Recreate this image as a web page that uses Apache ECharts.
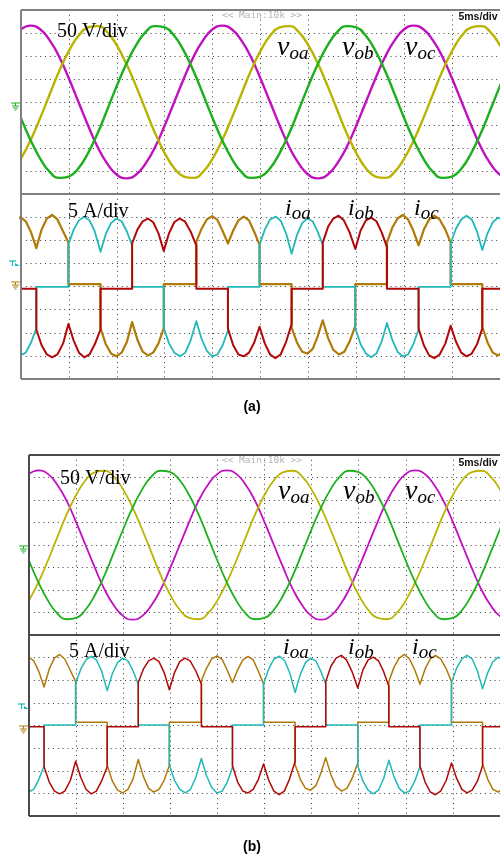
<!DOCTYPE html>
<html><head><meta charset="utf-8">
<script src="https://cdn.jsdelivr.net/npm/echarts@6/dist/echarts.min.js"></script>
<style>html,body{margin:0;padding:0;background:#fff}#c{width:500px;height:859px}</style>
</head><body><div id="c"></div>
<script>
// time samples of the voltage traces (ms)
const vTime = [0,1,2,3,4,5,6,7,8,9,10,11,12,13,14,15,16,17,18,19,20,21,22,23,24,25,26,27,28,29,30,31,32,33,34,35,36,37,38,39,40,41,42,43,44,45,46,47,48,49,50,51];
// voltages (V)
const vOa = [-123,-83,-35,17,68,111,144,162,165,152,123,83,35,-17,-68,-111,-144,-162,-165,-152,
             -123,-83,-35,17,68,111,144,162,165,152,123,83,35,-17,-68,-111,-144,-162,-165,-152,
             -123,-83,-35,17,68,111,144,162,165,152,123,83];
const vOb = [-35,-83,-123,-152,-165,-162,-144,-111,-68,-17,35,83,123,152,165,162,144,111,68,17,
             -35,-83,-123,-152,-165,-162,-144,-111,-68,-17,35,83,123,152,165,162,144,111,68,17,
             -35,-83,-123,-152,-165,-162,-144,-111,-68,-17,35,83];
const vOc = [158,166,158,134,98,51,0,-51,-98,-134,-158,-166,-158,-134,-98,-51,0,51,98,134,
             158,166,158,134,98,51,0,-51,-98,-134,-158,-166,-158,-134,-98,-51,0,51,98,134,
             158,166,158,134,98,51,0,-51,-98,-134,-158,-166];
// currents [ms, A]
const iOa = [[-1.7,-7.5],[-1.15,-11.2],[-0.6,-13.6],[-0.05,-14.4],[0.5,-13.8],[1.05,-11.6],[1.6,-8.6],[1.6,0.4],[4.95,0.4],[4.95,9.6],[5.5,12.8],[6.05,14.8],[6.6,15.6],[7.15,14.8],[7.7,12.4],[8.3,8.0],[8.85,11.8],[9.4,14.2],[9.95,15.2],[10.5,14.6],[11.05,12.4],[11.6,9.4],[11.6,0.4],[14.9,0.4],[14.9,-8.4],[15.45,-11.8],[16.0,-13.8],[16.6,-14.6],[17.15,-13.8],[17.7,-11.2],[18.3,-7.0],[18.85,-10.8],[19.4,-13.4],[19.95,-14.6],[20.5,-14.2],[21.05,-12.2],[21.6,-9.0],[21.6,0.4],[24.9,0.4],[24.9,9.5],[25.45,12.8],[26.0,15.0],[26.6,15.6],[27.15,14.6],[27.7,11.8],[28.25,7.6],[28.8,11.6],[29.35,14.2],[29.9,15.2],[30.45,14.6],[31.0,12.2],[31.5,9.5],[31.5,0.4],[34.9,0.4],[34.9,-8.6],[35.45,-12.0],[36.0,-14.0],[36.55,-14.8],[37.1,-14.0],[37.65,-11.4],[38.2,-7.4],[38.75,-11.0],[39.3,-13.6],[39.85,-14.6],[40.4,-14.2],[40.95,-12.0],[41.5,-8.8],[41.5,0.4],[44.85,0.4],[44.85,9.8],[45.4,13.0],[45.95,15.0],[46.5,15.8],[47.05,15.0],[47.6,12.4],[48.15,8.4],[48.7,12.0],[49.25,14.4],[49.8,15.4],[50.35,14.8],[50.9,12.6],[51.5,9.6]];
const iOb = [[-1.7,0],[1.6,0],[1.6,-8.8],[2.15,-12.2],[2.7,-14.2],[3.25,-14.8],[3.8,-14.2],[4.4,-11.8],[4.95,-7.6],[5.5,-11.2],[6.05,-13.8],[6.6,-14.8],[7.15,-14.2],[7.7,-12.0],[8.3,-8.8],[8.3,0],[11.6,0],[11.6,9.8],[12.15,12.8],[12.7,14.6],[13.25,15.2],[13.8,14.4],[14.35,12.0],[14.9,8.2],[15.45,12.0],[16.0,14.4],[16.55,15.2],[17.1,14.6],[17.7,12.4],[18.3,9.4],[18.3,0],[21.6,0],[21.6,-8.6],[22.15,-12.2],[22.7,-14.2],[23.25,-14.6],[23.8,-13.8],[24.35,-11.6],[24.9,-8.2],[25.45,-11.8],[26.0,-14.2],[26.55,-15.0],[27.1,-14.2],[27.65,-11.6],[28.25,-7.6],[28.25,0],[31.5,0],[31.5,10.0],[32.05,13.4],[32.6,15.2],[33.15,15.8],[33.7,14.8],[34.3,12.2],[34.9,8.6],[35.45,12.6],[36.0,14.8],[36.55,15.4],[37.1,14.6],[37.65,12.2],[38.2,9.0],[38.2,0],[41.5,0],[41.5,-8.6],[42.05,-12.2],[42.6,-14.4],[43.15,-15.0],[43.7,-14.2],[44.3,-11.8],[44.85,-8.0],[45.4,-11.4],[45.95,-13.8],[46.5,-14.6],[47.05,-14.0],[47.6,-12.0],[48.15,-8.6],[48.15,0],[51.5,0]];
const iOc = [[-1.7,9.5],[-1.15,12.6],[-0.6,14.8],[-0.05,15.5],[0.5,14.6],[1.05,12.2],[1.6,8.8],[2.15,12.8],[2.7,15.2],[3.25,16.0],[3.8,15.0],[4.4,12.4],[4.95,10.0],[4.95,1.0],[8.3,1.0],[8.3,-8.5],[8.85,-12.0],[9.4,-14.0],[9.95,-14.6],[10.5,-13.8],[11.05,-11.5],[11.6,-7.2],[12.15,-11.0],[12.7,-13.6],[13.25,-14.4],[13.8,-13.8],[14.35,-11.8],[14.9,-8.5],[14.9,1.0],[18.3,1.0],[18.3,10.2],[18.85,13.0],[19.4,15.0],[19.95,15.7],[20.5,14.9],[21.05,12.5],[21.6,9.8],[22.15,12.6],[22.7,14.8],[23.25,15.6],[23.8,14.8],[24.35,12.3],[24.9,9.5],[24.9,1.0],[28.25,1.0],[28.25,-8.4],[28.8,-11.6],[29.35,-13.6],[29.9,-14.0],[30.45,-13.0],[30.95,-10.4],[31.5,-6.8],[32.05,-10.6],[32.6,-13.2],[33.2,-14.2],[33.75,-13.6],[34.3,-11.4],[34.9,-8.0],[34.9,1.0],[38.2,1.0],[38.2,10.0],[38.75,13.2],[39.3,15.2],[39.85,16.0],[40.4,15.0],[40.95,12.6],[41.5,9.4],[42.05,12.8],[42.6,15.0],[43.15,15.8],[43.7,15.0],[44.3,12.8],[44.85,10.0],[44.85,1.0],[48.15,1.0],[48.15,-8.2],[48.7,-11.6],[49.25,-13.8],[49.8,-14.4],[50.35,-13.6],[50.9,-11.4],[51.5,-7.5]];

const C = {mag:'#c010c0', yel:'#bab400', grn:'#1cb01c', brn:'#b07a08', cyn:'#22b8b8', red:'#b00808'};
const pairs = (ys) => vTime.map((t,i)=>[t, ys[i]]);
const dot = {show:true, lineStyle:{color:'#3a3a3a', width:1, type:[1,3.8]}};
const hid = {axisLine:{show:false}, axisTick:{show:false}, axisLabel:{show:false}};

const grids = [
  {left:21, top:10, width:482, height:184},
  {left:21, top:194, width:482, height:185},
  {left:29, top:455, width:471, height:180},
  {left:29, top:635, width:471, height:181}
];
const xAxes = grids.map((g,i)=>Object.assign({type:'value', gridIndex:i, min:0, max:50, interval:5, splitLine:dot}, hid));
const yAxes = [
  Object.assign({type:'value', gridIndex:0, min:-200, max:200, interval:50, splitLine:dot}, hid),
  Object.assign({type:'value', gridIndex:1, min:-19.5, max:20.5, splitLine:{show:false}}, hid),
  Object.assign({type:'value', gridIndex:1, min:0, max:8, interval:1, splitLine:dot}, hid),
  Object.assign({type:'value', gridIndex:2, min:-200, max:200, interval:50, splitLine:dot}, hid),
  Object.assign({type:'value', gridIndex:3, min:-19.7, max:20.3, splitLine:{show:false}}, hid),
  Object.assign({type:'value', gridIndex:3, min:0, max:8, interval:1, splitLine:dot}, hid)
];
function ln(data, xi, yi, color, w, smooth){
  return {type:'line', xAxisIndex:xi, yAxisIndex:yi, data, showSymbol:false, smooth:smooth, lineStyle:{color, width:w, join:'round'}, itemStyle:{color}, silent:true};
}
const series = [
  ln(pairs(vOc),0,0,C.mag,2.4,true), ln(pairs(vOa),0,0,C.yel,2.4,true), ln(pairs(vOb),0,0,C.grn,2.4,true),
  ln(iOc,1,1,C.brn,2.2,false), ln(iOa,1,1,C.cyn,1.8,false), ln(iOb,1,1,C.red,2,false),
  ln(pairs(vOc),2,3,C.mag,1.8,true), ln(pairs(vOa),2,3,C.yel,1.8,true), ln(pairs(vOb),2,3,C.grn,1.8,true),
  ln(iOc,3,4,C.brn,1.5,false), ln(iOa,3,4,C.cyn,1.5,false), ln(iOb,3,4,C.red,1.5,false)
];

const G = [];
function txt(x,y,text,font,fill,align){ G.push({type:'text', x, y, z:100, style:{text, font, fill, align:align||'left', verticalAlign:'middle', textAlign:align||'left', textVerticalAlign:'middle'}}); }
function seg(x1,y1,x2,y2,stroke,w){ G.push({type:'line', z:90, shape:{x1,y1,x2,y2}, style:{stroke, lineWidth:w||1}}); }
function lab(x,base,main,sub,ms,ss){
  txt(x, base-0.34*ms, main, 'italic '+ms+'px "Liberation Serif"', '#000');
  const w = main==='v' ? 0.444*ms : 0.28*ms;
  txt(x+w, base+3-0.34*ss, sub, 'italic '+ss+'px "Liberation Serif"', '#000');
}
function ground(x,y,col){
  seg(x-3,y,x+6,y,col,1);
  seg(x+1.5,y,x+1.5,y+3,col,1);
  seg(x-2,y+3,x+5,y+3,col,1);
  seg(x-1,y+5,x+4,y+5,col,1);
  seg(x+0.5,y+7,x+2.5,y+7,col,1);
}
function trig(x,y,col){
  seg(x,y-3,x+7,y-3,col,1.2);
  seg(x+3.5,y-3,x+3.5,y+2,col,1.2);
  G.push({type:'polygon', z:90, shape:{points:[[x+6,y-1],[x+11,y+2],[x+6,y+2]]}, style:{fill:col}});
}
// panel frames
function frame(l,t,m,b,col,w){
  seg(l,t,502,t,col,w); seg(l,m,502,m,col,w); seg(l,b,502,b,col,w); seg(l,t,l,b,col,w);
}
frame(21,10,194,379,'#808080',2);
frame(29,455,635,816,'#4a4a4a',2);
// scope texts
txt(262,16,'<< Main:10k >>','9.5px "DejaVu Sans Mono"','#b4b4b4','center');
txt(478,17.5,'5ms/div','bold 10.5px "Liberation Sans"','#111','center');
txt(262,461,'<< Main:10k >>','9.5px "DejaVu Sans Mono"','#b4b4b4','center');
txt(478,463,'5ms/div','bold 10.5px "Liberation Sans"','#111','center');
txt(57,32,'50 V/div','20px "Liberation Serif"','#000');
txt(68,212,'5 A/div','20px "Liberation Serif"','#000');
txt(60,479,'50 V/div','20px "Liberation Serif"','#000');
txt(69,652,'5 A/div','20px "Liberation Serif"','#000');
lab(277,57,'v','oa',28,19); lab(342,57,'v','ob',28,19); lab(405,57,'v','oc',28,19);
lab(285,217,'i','oa',24,19); lab(348,217,'i','ob',24,19); lab(414,217,'i','oc',24,19);
lab(278,501,'v','oa',28,19); lab(343,501,'v','ob',28,19); lab(405,501,'v','oc',28,19);
lab(283,656,'i','oa',24,19); lab(348,656,'i','ob',24,19); lab(412,656,'i','oc',24,19);
// channel markers
ground(14,103,C.grn); trig(9,264,C.cyn); ground(14,282,C.brn);
ground(22,546,C.grn); trig(18,707,C.cyn); ground(22,726,C.brn);
// captions
txt(252,407,'(a)','bold 14px "Liberation Sans"','#000','center');
txt(252,847,'(b)','bold 14px "Liberation Sans"','#000','center');

const chart = echarts.init(document.getElementById('c'), null, {renderer:'canvas'});
chart.setOption({animation:false, backgroundColor:'#fff', grid:grids, xAxis:xAxes, yAxis:yAxes, series, graphic:{elements:G}});
</script></body></html>
